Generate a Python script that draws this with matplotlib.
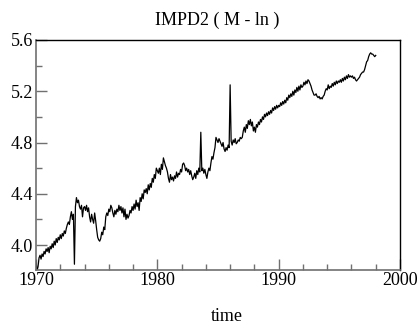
import numpy as np
import matplotlib.pyplot as plt
from matplotlib.ticker import MultipleLocator

# IMPD2, log level, monthly from Jan 1970
start_year = 1970
impd2 = [
    3.88, 3.80, 3.83, 3.90, 3.92, 3.89, 3.93, 3.91, 3.95, 3.93, 3.97, 3.95,  # 1970
    3.98, 3.94, 3.99, 3.97, 4.01, 3.98, 4.03, 4.00, 4.05, 4.02, 4.06, 4.04,  # 1971
    4.08, 4.05, 4.09, 4.07, 4.11, 4.09, 4.13, 4.16, 4.18, 4.16, 4.22, 4.26,  # 1972
    4.20, 4.24, 3.85, 4.30, 4.37, 4.33, 4.35, 4.30, 4.28, 4.31, 4.22, 4.29,  # 1973
    4.30, 4.27, 4.31, 4.26, 4.29, 4.22, 4.18, 4.24, 4.20, 4.17, 4.25, 4.19,  # 1974
    4.12, 4.06, 4.04, 4.03, 4.05, 4.10, 4.08, 4.14, 4.12, 4.22, 4.25, 4.23,  # 1975
    4.28, 4.26, 4.31, 4.29, 4.25, 4.22, 4.27, 4.24, 4.28, 4.26, 4.31, 4.27,  # 1976
    4.30, 4.25, 4.29, 4.22, 4.28, 4.20, 4.24, 4.21, 4.23, 4.27, 4.25, 4.30,  # 1977
    4.27, 4.32, 4.28, 4.35, 4.30, 4.33, 4.27, 4.37, 4.34, 4.40, 4.36, 4.43,  # 1978
    4.41, 4.44, 4.40, 4.47, 4.43, 4.48, 4.45, 4.52, 4.49, 4.55, 4.52, 4.60,  # 1979
    4.58, 4.56, 4.60, 4.55, 4.63, 4.59, 4.68, 4.65, 4.62, 4.60, 4.57, 4.52,  # 1980
    4.49, 4.55, 4.51, 4.53, 4.50, 4.54, 4.52, 4.57, 4.53, 4.56, 4.55, 4.59,  # 1981
    4.57, 4.63, 4.64, 4.62, 4.58, 4.60, 4.57, 4.59, 4.55, 4.58, 4.54, 4.51,  # 1982
    4.53, 4.56, 4.52, 4.58, 4.55, 4.60, 4.57, 4.88, 4.58, 4.60, 4.56, 4.59,  # 1983
    4.55, 4.52, 4.57, 4.60, 4.58, 4.64, 4.69, 4.67, 4.72, 4.76, 4.84, 4.82,  # 1984
    4.80, 4.83, 4.81, 4.79, 4.77, 4.80, 4.75, 4.73, 4.76, 4.74, 4.78, 4.76,  # 1985
    5.25, 4.81, 4.78, 4.82, 4.80, 4.83, 4.79, 4.80, 4.82, 4.81, 4.84, 4.83,  # 1986
    4.84, 4.89, 4.92, 4.88, 4.94, 4.91, 4.97, 4.94, 4.98, 4.93, 4.96, 4.89,  # 1987
    4.92, 4.88, 4.94, 4.92, 4.96, 4.94, 4.98, 4.96, 5.00, 4.98, 5.02, 5.00,  # 1988
    5.03, 5.01, 5.04, 5.02, 5.05, 5.03, 5.07, 5.05, 5.08, 5.06, 5.09, 5.07,  # 1989
    5.09, 5.08, 5.11, 5.09, 5.12, 5.10, 5.13, 5.11, 5.15, 5.13, 5.17, 5.15,  # 1990
    5.18, 5.16, 5.20, 5.17, 5.21, 5.19, 5.23, 5.20, 5.24, 5.21, 5.25, 5.23,  # 1991
    5.24, 5.27, 5.25, 5.28, 5.26, 5.29, 5.28, 5.26, 5.24, 5.21, 5.19, 5.17,  # 1992
    5.17, 5.18, 5.16, 5.15, 5.16, 5.14, 5.15, 5.14, 5.16, 5.17, 5.20, 5.22,  # 1993
    5.21, 5.25, 5.22, 5.24, 5.23, 5.26, 5.24, 5.27, 5.25, 5.28, 5.26, 5.28,  # 1994
    5.27, 5.29, 5.27, 5.30, 5.28, 5.31, 5.29, 5.32, 5.30, 5.33, 5.31, 5.32,  # 1995
    5.31, 5.32, 5.30, 5.31, 5.29, 5.28, 5.29, 5.30, 5.31, 5.33, 5.34, 5.35,  # 1996
    5.35, 5.37, 5.40, 5.43, 5.44, 5.47, 5.49, 5.50, 5.49, 5.49, 5.48, 5.47,  # 1997
    5.48,                                                                    # 1998
]
x_ticks = [1970, 1980, 1990, 2000]
y_ticks = [4.0, 4.4, 4.8, 5.2, 5.6]

t = start_year + np.arange(len(impd2)) / 12

plt.rcParams['font.family'] = ['Liberation Serif', 'DejaVu Serif']
plt.rcParams['font.size'] = 13

fig = plt.figure(figsize=(4.2, 3.27), dpi=100)
ax = fig.add_axes([36 / 420, 1 - 270 / 327, 364 / 420, 230 / 327])

ax.plot(t, impd2, color='black', lw=0.9)

ax.set_xlim(1970, 2000)
ax.set_ylim(3.805, 5.6)
ax.set_xticks(x_ticks)
ax.set_yticks(y_ticks)
ax.set_yticklabels([f'{v:.1f}' for v in y_ticks])
ax.xaxis.set_minor_locator(MultipleLocator(2))
ax.yaxis.set_minor_locator(MultipleLocator(0.2))

grey = '#707070'
ax.tick_params(which='both', direction='in', top=False, right=False,
               color=grey, width=1.0)
ax.tick_params(which='major', length=8)
ax.tick_params(which='minor', length=4.5)
ax.tick_params(axis='y', pad=2)
ax.tick_params(axis='x', pad=1.5)
for side in ['left', 'bottom']:
    ax.spines[side].set_color(grey)
    ax.spines[side].set_linewidth(1.2)
for side in ['top', 'right']:
    ax.spines[side].set_linewidth(1.0)

fig.text(217 / 420, 1 - 25 / 327, 'IMPD2 ( M - ln )', ha='center', va='baseline')
fig.text(227 / 420, 1 - 321 / 327, 'time', ha='center', va='baseline')

fig.savefig('out.png', dpi=100)
